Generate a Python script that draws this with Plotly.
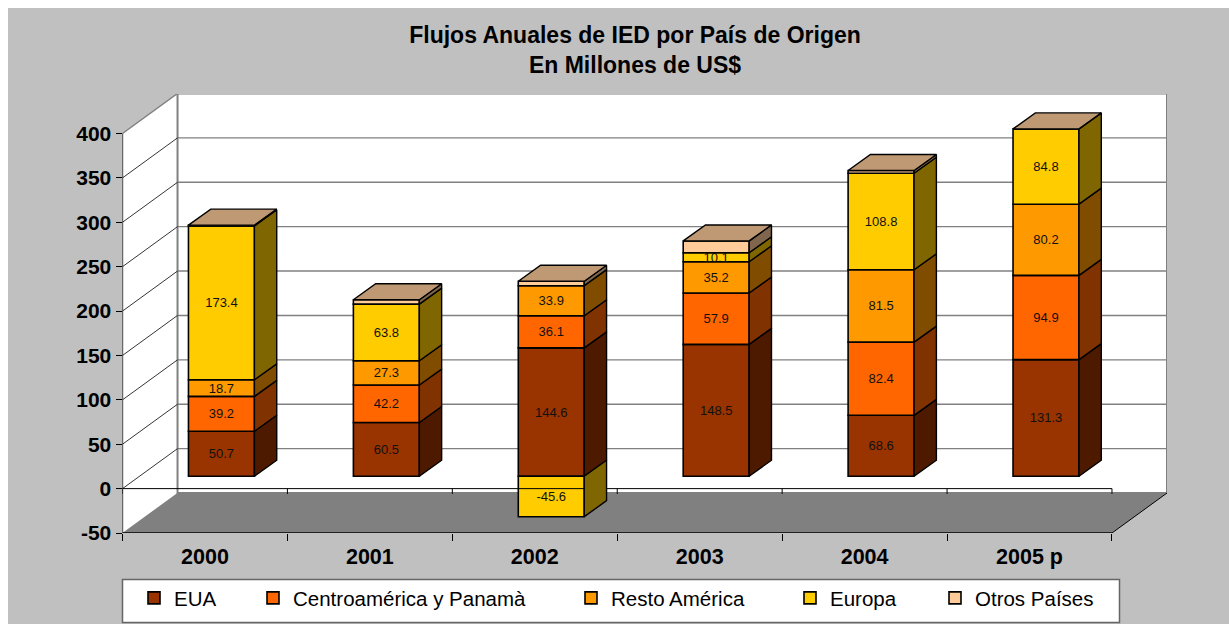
import plotly.graph_objects as go

W, H = 1229, 624
years = ["2000", "2001", "2002", "2003", "2004", "2005 p"]
eua = [50.7, 60.5, 144.6, 148.5, 68.6, 131.3]
centro = [39.2, 42.2, 36.1, 57.9, 82.4, 94.9]
resto = [18.7, 27.3, 33.9, 35.2, 81.5, 80.2]
europa = [173.4, 63.8, -45.6, 10.1, 108.8, 84.8]
otros = [0.8, 5.0, 5.0, 13.3, 3.0, 0.0]
y_ticks = [-50, 0, 50, 100, 150, 200, 250, 300, 350, 400]

series = [
    ("EUA", eua, "#993300", "#4D1A00", True),
    ("Centroamérica y Panamà", centro, "#FF6600", "#803300", True),
    ("Resto América", resto, "#FF9900", "#804D00", True),
    ("Europa", europa, "#FFCC00", "#806600", True),
    ("Otros Países", otros, "#FFCC99", "#80664D", False),
]
TOP_COLOR = "#BF9973"

# axis geometry (pixels of the picture)
X0, X1, Y_TOP, Y_BOT = 122.5, 1167.0, 94.0, 533.0
CAT_PX = 164.83
PX_PER_UNIT = 0.8878
WALL_DX = 55 / CAT_PX
WALL_DY = 40 / PX_PER_UNIT
BAR_W = 0.40
BAR_X = 0.60                       # bar centre inside a category
FRONT_DY = 12.4 / PX_PER_UNIT
DEPTH_DX = 22.3 / CAT_PX
DEPTH_DY = 16.0 / PX_PER_UNIT
N = len(years)

fig = go.Figure()
shapes = []


def rect(**kw):
    shapes.append(dict(type="rect", layer="below", **kw))


def seg(x0, y0, x1, y1, color, width):
    shapes.append(dict(type="line", layer="below", xref="x", yref="y", x0=x0, y0=y0, x1=x1, y1=y1,
                       line=dict(color=color, width=width)))


ymin, ymax = y_ticks[0], y_ticks[-1]
# chart area and legend box
rect(xref="paper", yref="paper", x0=8 / W, x1=1, y0=0, y1=1 - 8 / H, fillcolor="#C0C0C0", line_width=0)
rect(xref="paper", yref="paper", x0=122.5 / W, x1=1119.5 / W, y0=1 - 622.5 / H, y1=1 - 579.5 / H,
     fillcolor="white", line=dict(color="#666666", width=1.5))
# walls
shapes.append(dict(type="path", layer="below", xref="x", yref="y",
                   path=f"M 0 {ymin} L {WALL_DX} {ymin + WALL_DY} L {WALL_DX} {ymax + WALL_DY} L 0 {ymax} Z",
                   fillcolor="white", line_width=0))
rect(xref="x", yref="y", x0=WALL_DX, x1=N + WALL_DX, y0=ymin + WALL_DY, y1=ymax + WALL_DY,
     fillcolor="white", line=dict(color="#808080", width=2))
# gridlines
for t in y_ticks[1:-1]:
    seg(WALL_DX, t + WALL_DY, N + WALL_DX, t + WALL_DY, "#808080", 1.4)
    seg(0, t, WALL_DX, t + WALL_DY, "#000000", 0.8)
seg(0, ymax, WALL_DX, ymax + WALL_DY, "#808080", 1.5)
# floor
shapes.append(dict(type="path", layer="below", xref="x", yref="y",
                   path=f"M 0 {ymin} L {WALL_DX} {ymin + WALL_DY} L {N + WALL_DX} {ymin + WALL_DY} L {N} {ymin} Z",
                   fillcolor="#808080", line_width=0))
seg(N, ymin, N + WALL_DX, ymin + WALL_DY, "#000000", 1)
seg(0, ymin, N, ymin, "#000000", 1.3)
seg(0, ymin, 0, ymax, "#000000", 1.3)
# ticks under the zero line
for k in range(N + 1):
    seg(k, 0, k, -6, "#000000", 1)

# zero line over the front of the bars
fig.add_trace(go.Scatter(x=[0, N], y=[0, 0], mode="lines", line=dict(color="black", width=1),
                         showlegend=False, hoverinfo="skip"))

pos_base = [0.0] * N
legend_names = ["legend", "legend2", "legend3", "legend4", "legend5"]
legend_px = [134, 253, 571, 790, 935]
for (name, vals, color, side, labelled), lg in zip(series, legend_names):
    bases = []
    for i, v in enumerate(vals):
        if v >= 0:
            bases.append(pos_base[i])
            pos_base[i] += v
        else:
            bases.append(0.0)
    xs = [i + BAR_X for i in range(N)]
    fig.add_trace(go.Bar(
        x=xs, y=vals, base=[b + FRONT_DY for b in bases], width=BAR_W, name=name,
        marker=dict(color=color, line=dict(color="black", width=1.6)),
        text=[f"{v:.1f}" for v in vals] if labelled else None,
        textposition="inside" if labelled else "none", insidetextanchor="middle", textangle=0,
        insidetextfont=dict(family="Liberation Sans, Arial, sans-serif", size=13, color="#111111"),
        constraintext="none", legend=lg, hoverinfo="skip",
    ))
    px, py = [], []
    for i, v in enumerate(vals):
        r = xs[i] + BAR_W / 2
        lo = bases[i] + FRONT_DY
        hi = lo + v
        px += [r, r + DEPTH_DX, r + DEPTH_DX, r, r, None]
        py += [lo, lo + DEPTH_DY, hi + DEPTH_DY, hi, lo, None]
    fig.add_trace(go.Scatter(x=px, y=py, mode="lines", fill="toself", fillcolor=side,
                             line=dict(color="black", width=1.4), showlegend=False, hoverinfo="skip"))

# top faces
px, py = [], []
for i in range(N):
    l = i + BAR_X - BAR_W / 2
    r = l + BAR_W
    t = pos_base[i] + FRONT_DY
    px += [l, r, r + DEPTH_DX, l + DEPTH_DX, l, None]
    py += [t, t, t + DEPTH_DY, t + DEPTH_DY, t, None]
fig.add_trace(go.Scatter(x=px, y=py, mode="lines", fill="toself", fillcolor=TOP_COLOR,
                         line=dict(color="black", width=1.4), showlegend=False, hoverinfo="skip"))

layout_legends = {}
for lg, lx in zip(legend_names, legend_px):
    layout_legends[lg] = dict(x=lx / W, xanchor="left", y=1 - 598 / H, yanchor="middle",
                              bgcolor="rgba(0,0,0,0)", borderwidth=0,
                              font=dict(family="Liberation Sans, Arial, sans-serif", size=20.5, color="black"))

BOLD = "Liberation Sans, Arial, sans-serif"
fig.update_layout(
    width=W, height=H, margin=dict(l=0, r=0, t=0, b=0, autoexpand=False),
    paper_bgcolor="white", plot_bgcolor="rgba(0,0,0,0)",
    barmode="overlay", shapes=shapes, hovermode=False,
    title=dict(text="<b>Flujos Anuales de IED por País de Origen<br>En Millones de US$</b>",
               x=635 / W, xanchor="center", y=1 - 43 / H, yanchor="middle",
               font=dict(family=BOLD, size=23, color="black")),
    xaxis=dict(domain=[X0 / W, X1 / W], range=[0, N + WALL_DX], tickvals=[i + 0.5 for i in range(N)], ticktext=years,
               ticks="outside", ticklen=4, tickcolor="rgba(0,0,0,0)", showgrid=False, zeroline=False,
               tickfont=dict(family=BOLD, size=21.5, color="black", weight="bold"),
               minor=dict(tickvals=list(range(N + 1)), ticks="outside", ticklen=7, tickcolor="black", showgrid=False)),
    yaxis=dict(domain=[1 - Y_BOT / H, 1 - Y_TOP / H], range=[ymin, ymin + (Y_BOT - Y_TOP) / PX_PER_UNIT],
               tickvals=y_ticks, ticktext=[str(t) for t in y_ticks],
               ticks="outside", ticklen=6, tickcolor="black", showgrid=False, zeroline=False,
               tickfont=dict(family=BOLD, size=21, color="black", weight="bold")),
    **layout_legends,
)
fig.write_html("out.html", config={"displayModeBar": False}, post_script="document.body.style.margin='0';")
